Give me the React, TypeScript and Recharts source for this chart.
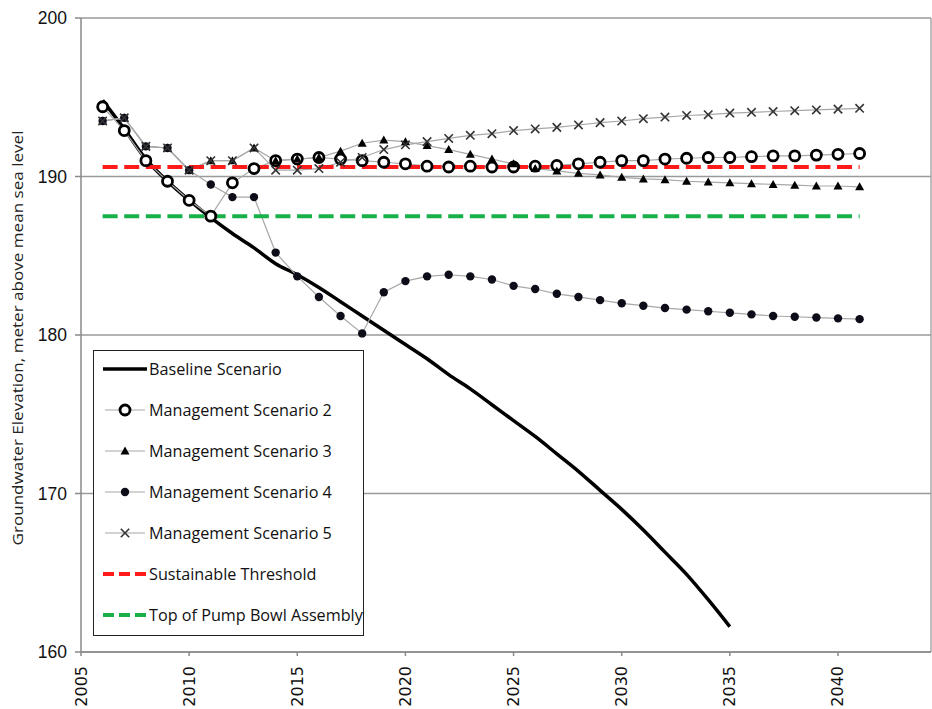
import React from 'react';
import {
  LineChart,
  Line,
  XAxis,
  YAxis,
  CartesianGrid,
  Legend,
  ReferenceLine,
} from 'recharts';

const YEARS = [
  2006, 2007, 2008, 2009, 2010, 2011, 2012, 2013, 2014, 2015, 2016, 2017,
  2018, 2019, 2020, 2021, 2022, 2023, 2024, 2025, 2026, 2027, 2028, 2029,
  2030, 2031, 2032, 2033, 2034, 2035, 2036, 2037, 2038, 2039, 2040, 2041,
];

// baseline run stops in 2035
const BASELINE = [
  194.8, 193.0, 191.1, 189.7, 188.5, 187.4, 186.4, 185.5, 184.5, 183.8, 183.0, 182.1,
  181.2, 180.3, 179.4, 178.5, 177.5, 176.6, 175.6, 174.6, 173.6, 172.5, 171.4, 170.2,
  169.0, 167.7, 166.3, 164.9, 163.3, 161.6,
];

const SCENARIO_2 = [
  194.4, 192.9, 191.0, 189.7, 188.5, 187.5, 189.6, 190.5, 191.0, 191.1, 191.2, 191.1,
  191.0, 190.9, 190.8, 190.65, 190.6, 190.65, 190.6, 190.6, 190.65, 190.7, 190.8, 190.9,
  191.0, 191.0, 191.1, 191.15, 191.2, 191.2, 191.25, 191.3, 191.3, 191.35, 191.4, 191.45,
];

const SCENARIO_3 = [
  193.5, 193.7, 191.9, 191.8, 190.4, 191.0, 191.0, 191.8, 191.0, 191.1, 191.2, 191.6,
  192.1, 192.3, 192.2, 191.95, 191.7, 191.4, 191.1, 190.8, 190.5, 190.35, 190.2, 190.1,
  189.95, 189.85, 189.8, 189.7, 189.65, 189.6, 189.55, 189.5, 189.45, 189.4, 189.4, 189.35,
];

const SCENARIO_4 = [
  193.5, 193.7, 191.9, 191.8, 190.4, 189.5, 188.7, 188.7, 185.2, 183.7, 182.4, 181.2,
  180.1, 182.7, 183.4, 183.7, 183.8, 183.7, 183.5, 183.1, 182.9, 182.6, 182.4, 182.2,
  182.0, 181.85, 181.7, 181.6, 181.5, 181.4, 181.3, 181.2, 181.15, 181.1, 181.05, 181.0,
];

const SCENARIO_5 = [
  193.5, 193.7, 191.9, 191.8, 190.4, 191.0, 191.0, 191.8, 190.4, 190.4, 190.5, 190.9,
  191.2, 191.7, 192.0, 192.2, 192.4, 192.6, 192.7, 192.9, 193.0, 193.1, 193.25, 193.4,
  193.5, 193.65, 193.75, 193.85, 193.9, 194.0, 194.05, 194.1, 194.15, 194.2, 194.25, 194.3,
];

const SUSTAINABLE_THRESHOLD = 190.6;
const PUMP_BOWL_TOP = 187.5;

const X_TICKS = [2005, 2010, 2015, 2020, 2025, 2030, 2035, 2040];
const Y_TICKS = [160, 170, 180, 190, 200];

const data = YEARS.map((year, i) => ({
  year,
  baseline: i < BASELINE.length ? BASELINE[i] : null,
  s2: SCENARIO_2[i],
  s3: SCENARIO_3[i],
  s4: SCENARIO_4[i],
  s5: SCENARIO_5[i],
  sustainable: SUSTAINABLE_THRESHOLD,
  pump: PUMP_BOWL_TOP,
}));

const RED = '#ff1a1a';
const GREEN = '#19b04a';
const THIN = '#a8a8a8';

// marker shapes
function Ring({ cx, cy }: { cx: number; cy: number }) {
  return <circle cx={cx} cy={cy} r={5} fill="#fff" stroke="#000" strokeWidth={2.8} />;
}
function Tri({ cx, cy }: { cx: number; cy: number }) {
  return <path d={`M${cx},${cy - 4.5}L${cx - 4.5},${cy + 3.5}L${cx + 4.5},${cy + 3.5}Z`} fill="#000" />;
}
function Dot({ cx, cy }: { cx: number; cy: number }) {
  return <circle cx={cx} cy={cy} r={4.2} fill="#0d0d1a" />;
}
function Cross({ cx, cy }: { cx: number; cy: number }) {
  const s = 4.2;
  return (
    <g stroke="#333" strokeWidth={1.6}>
      <line x1={cx - s} y1={cy - s} x2={cx + s} y2={cy + s} />
      <line x1={cx - s} y1={cy + s} x2={cx + s} y2={cy - s} />
    </g>
  );
}

const marker = (Shape: any) => (props: any) => {
  const { cx, cy, index } = props;
  if (cx == null || cy == null) return <g key={`m-${index}`} />;
  return <Shape key={`m-${index}`} cx={cx} cy={cy} />;
};

const LEGEND_ROWS = [
  { label: 'Baseline Scenario', kind: 'base' },
  { label: 'Management Scenario 2', kind: 'ring' },
  { label: 'Management Scenario 3', kind: 'tri' },
  { label: 'Management Scenario 4', kind: 'dot' },
  { label: 'Management Scenario 5', kind: 'cross' },
  { label: 'Sustainable Threshold', kind: 'red' },
  { label: 'Top of Pump Bowl Assembly', kind: 'green' },
];

function LegendIcon({ kind }: { kind: string }) {
  const w = 44;
  const y = 8;
  if (kind === 'base') return <svg width={w} height={16}><line x1={0} y1={y} x2={w} y2={y} stroke="#000" strokeWidth={3.5} /></svg>;
  if (kind === 'red' || kind === 'green')
    return (
      <svg width={w} height={16}>
        <line x1={0} y1={y} x2={w} y2={y} stroke={kind === 'red' ? RED : GREEN} strokeWidth={4} strokeDasharray="11 5" />
      </svg>
    );
  const Shape = kind === 'ring' ? Ring : kind === 'tri' ? Tri : kind === 'dot' ? Dot : Cross;
  return (
    <svg width={w} height={16}>
      <line x1={2} y1={y} x2={w - 2} y2={y} stroke={THIN} strokeWidth={1.2} />
      <Shape cx={w / 2} cy={y} />
    </svg>
  );
}

function LegendBox() {
  return (
    <div
      style={{
        width: 271,
        height: 286,
        border: '1.5px solid #222',
        background: '#fff',
        boxSizing: 'border-box',
        padding: '0 0 0 9px',
        fontFamily: 'Open Sans, sans-serif',
        fontSize: 16.2,
        color: '#111',
        overflow: 'hidden',
      }}
    >
      <div style={{ marginTop: -3 }}>
        {LEGEND_ROWS.map((r) => (
          <div key={r.label} style={{ display: 'flex', alignItems: 'center', height: 41 }}>
            <LegendIcon kind={r.kind} />
            <span style={{ marginLeft: 2 }}>{r.label}</span>
          </div>
        ))}
      </div>
    </div>
  );
}

function YearTick({ x, y, payload }: any) {
  return (
    <text
      x={x}
      y={y + 8}
      transform={`rotate(-90, ${x}, ${y + 8})`}
      textAnchor="end"
      dominantBaseline="central"
      fontFamily="DejaVu Sans, sans-serif"
      fontSize={16}
      fill="#111"
    >
      {payload.value}
    </text>
  );
}

// vertical title, squeezed to the narrow face the axis uses
function AxisTitle() {
  return (
    <text
      x={17}
      y={338}
      transform="rotate(-90, 17, 338)"
      textAnchor="middle"
      dominantBaseline="central"
      fontFamily="Open Sans, sans-serif"
      fontSize={15}
      textLength={415}
      lengthAdjust="spacingAndGlyphs"
      fill="#222"
    >
      Groundwater  Elevation, meter above mean sea level
    </text>
  );
}

export default function App() {
  return (
    <div style={{ position: 'absolute', left: 0, top: 0, width: 932, height: 709, background: '#fff' }}>
      <LineChart width={932} height={709} data={data} margin={{ top: 18, right: 1, left: 0, bottom: 0 }}>
        <CartesianGrid vertical={false} stroke="#9a9a9a" strokeWidth={1.3} />
        <ReferenceLine x={2044.3} stroke="#9a9a9a" strokeWidth={1.3} />
        <XAxis
          dataKey="year"
          type="number"
          domain={[2005, 2044.3]}
          ticks={X_TICKS}
          allowDataOverflow
          height={57}
          stroke="#8a8a8a"
          strokeWidth={1.5}
          tickSize={4}
          tick={<YearTick />}
          interval={0}
        />
        <YAxis
          domain={[160, 200]}
          ticks={Y_TICKS}
          width={81}
          stroke="#8a8a8a"
          strokeWidth={1.5}
          tickSize={6}
          tickMargin={8}
          tick={{ fontFamily: 'Liberation Sans, Arial, sans-serif', fontSize: 17.5, fill: '#111' }}
          label={<AxisTitle />}
        />
        <Legend
          layout="vertical"
          align="center"
          verticalAlign="middle"
          content={() => <LegendBox />}
          wrapperStyle={{ left: 93, top: 350, width: 271, height: 286 }}
        />
        <Line
          dataKey="baseline"
          type="monotone"
          stroke="#000"
          strokeWidth={3.5}
          dot={false}
          connectNulls={false}
          isAnimationActive={false}
        />
        <Line dataKey="s2" type="linear" stroke={THIN} strokeWidth={1.2} dot={marker(Ring)} isAnimationActive={false} />
        <Line dataKey="s3" type="linear" stroke={THIN} strokeWidth={1.2} dot={marker(Tri)} isAnimationActive={false} />
        <Line dataKey="s4" type="linear" stroke={THIN} strokeWidth={1.2} dot={marker(Dot)} isAnimationActive={false} />
        <Line dataKey="s5" type="linear" stroke={THIN} strokeWidth={1.2} dot={marker(Cross)} isAnimationActive={false} />
        <Line
          dataKey="sustainable"
          type="linear"
          stroke={RED}
          strokeWidth={4}
          strokeDasharray="15 6.6"
          dot={false}
          isAnimationActive={false}
        />
        <Line
          dataKey="pump"
          type="linear"
          stroke={GREEN}
          strokeWidth={4}
          strokeDasharray="15 6.6"
          dot={false}
          isAnimationActive={false}
        />
      </LineChart>
    </div>
  );
}
